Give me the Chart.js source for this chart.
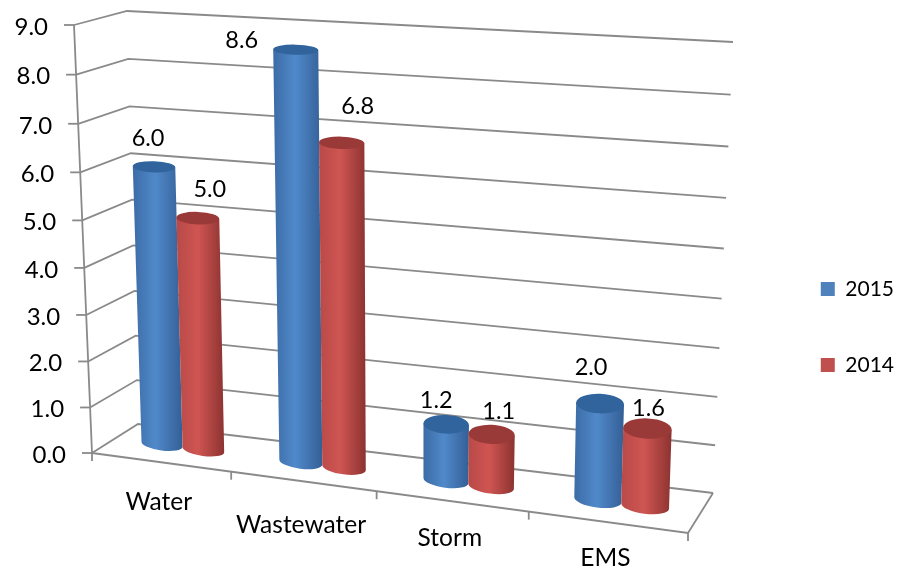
<!DOCTYPE html>
<html>
<head>
<meta charset="utf-8">
<style>
  html, body { margin: 0; padding: 0; background: #fff; }
  canvas { display: block; }
</style>
<script src="https://cdn.jsdelivr.net/npm/chart.js@4/dist/chart.umd.min.js"></script>
</head>
<body>
<canvas id="myChart" width="897" height="571"></canvas>
<script>
// chart data
const categories = ['Water', 'Wastewater', 'Storm', 'EMS'];
const values2015 = [6.0, 8.6, 1.2, 2.0];
const values2014 = [5.0, 6.8, 1.1, 1.6];

// look of the two series
const blueStops = ['#3c6ca6', '#5089ca', '#345f96'];
const redStops = ['#b84a48', '#cf5552', '#8c3331'];
const capColors = ['#31639c', '#9a3a38'];
const gridColor = '#8a8a8a';
const textColor = '#000';
const fontName = 'Lato, "Open Sans", sans-serif';

// the box of the 3d view: floor and top corners of front and back planes
const frontPlane = [[92, 453], [688, 533], [701, 67], [74, 25]];
const backPlane = [[138, 424], [713, 493], [733, 42], [127, 11]];
const barDepth = 0.5;
const barRadiusDepth = 0.28;

// hand placed nudges, same order as the categories
const catLabelDrop = [40, 44, 37, 36];
const valueLabelNudge = [
  [[-6, -28], [-54, -9], [-10, -24], [-9, -36]],
  [[12, -29], [16, -36], [7, -23], [1, -20]]
];

// unit square -> quad
const makeHomography = (q) => {
  const [p0, p1, p2, p3] = q;
  const dx1 = p1[0] - p2[0], dx2 = p3[0] - p2[0], sx = p0[0] - p1[0] + p2[0] - p3[0];
  const dy1 = p1[1] - p2[1], dy2 = p3[1] - p2[1], sy = p0[1] - p1[1] + p2[1] - p3[1];
  const den = dx1 * dy2 - dx2 * dy1;
  const g = (sx * dy2 - dx2 * sy) / den;
  const h = (dx1 * sy - sx * dy1) / den;
  const a = p1[0] - p0[0] + g * p1[0], b = p3[0] - p0[0] + h * p3[0];
  const d = p1[1] - p0[1] + g * p1[1], e = p3[1] - p0[1] + h * p3[1];
  return (u, v) => {
    const w = g * u + h * v + 1;
    return [(a * u + b * v + p0[0]) / w, (d * u + e * v + p0[1]) / w];
  };
};
const frontMap = makeHomography(frontPlane);
const backMap = makeHomography(backPlane);

const project = (u, v, depth) => {
  const f = frontMap(u, v), b = backMap(u, v);
  return [f[0] + (b[0] - f[0]) * depth, f[1] + (b[1] - f[1]) * depth];
};

const strokePath = (ctx, pts) => {
  ctx.beginPath();
  pts.forEach((p, i) => i ? ctx.lineTo(p[0], p[1]) : ctx.moveTo(p[0], p[1]));
  ctx.stroke();
};

const drawBox = (chart) => {
  const ctx = chart.ctx, yScale = chart.scales.y;
  const area = chart.chartArea;
  ctx.save();
  ctx.strokeStyle = gridColor;
  ctx.lineWidth = 1.8;
  ctx.fillStyle = textColor;
  ctx.font = '24px ' + fontName;
  ctx.textAlign = 'right';
  ctx.textBaseline = 'middle';

  yScale.ticks.forEach((tick) => {
    const v = (area.bottom - yScale.getPixelForValue(tick.value)) / area.height;
    const a = project(0, v, 0), b = project(0, v, 1), c = project(1, v, 1);
    strokePath(ctx, [a, b, c]);
    strokePath(ctx, [[a[0] - 10, a[1]], a]);
    ctx.fillText(tick.label, a[0] - 26, a[1] + 2);
  });

  strokePath(ctx, [project(0, 0, 0), project(0, 1, 0)]);
  strokePath(ctx, [project(0, 0, 0), project(1, 0, 0), project(1, 0, 1)]);
  for (let i = 0; i <= categories.length; i++) {
    const p = project(i / categories.length, 0, 0);
    strokePath(ctx, [p, [p[0], p[1] + 8]]);
  }

  const xScale = chart.scales.x;
  ctx.textAlign = 'center';
  ctx.font = '24.5px ' + fontName;
  categories.forEach((cat, i) => {
    const u = (xScale.getPixelForValue(i) - area.left) / area.width;
    const p = project(u, 0, 0);
    ctx.fillText(cat, p[0] - 2, p[1] + catLabelDrop[i]);
  });
  ctx.restore();
};

const drawCylinder = (chart, bar, stops, capColor) => {
  const ctx = chart.ctx, area = chart.chartArea;
  const uL = (bar.x - bar.width / 2 - area.left) / area.width;
  const uR = (bar.x + bar.width / 2 - area.left) / area.width;
  const uC = (bar.x - area.left) / area.width;
  const vTop = (area.bottom - bar.y) / area.height;
  const vBase = (area.bottom - bar.base) / area.height;

  const tl = project(uL, vTop, barDepth), tr = project(uR, vTop, barDepth);
  const bl = project(uL, vBase, barDepth), br = project(uR, vBase, barDepth);

  const ring = (l, r, v, squash, turn) => {
    const near = project(uC, v, barDepth - barRadiusDepth);
    const far = project(uC, v, barDepth + barRadiusDepth);
    return {
      x: (l[0] + r[0]) / 2,
      y: (l[1] + r[1]) / 2,
      rx: Math.hypot(r[0] - l[0], r[1] - l[1]) / 2,
      ry: Math.abs(near[1] - far[1]) / 2 * squash,
      rot: Math.atan2(r[1] - l[1], r[0] - l[0]) * turn
    };
  };
  const top = ring(tl, tr, vTop, 1, 0.4), bottom = ring(bl, br, vBase, 0.72, 1);

  // side edges follow the flattened cap so no corner sticks out
  const capLeft = [top.x - top.rx * Math.cos(top.rot), top.y - top.rx * Math.sin(top.rot)];
  const capRight = [top.x + top.rx * Math.cos(top.rot), top.y + top.rx * Math.sin(top.rot)];

  const grad = ctx.createLinearGradient(Math.min(tl[0], bl[0]), 0, Math.max(tr[0], br[0]), 0);
  grad.addColorStop(0, stops[0]);
  grad.addColorStop(0.45, stops[1]);
  grad.addColorStop(1, stops[2]);

  ctx.save();
  ctx.fillStyle = grad;
  ctx.beginPath();
  ctx.moveTo(capLeft[0], capLeft[1]);
  ctx.lineTo(capRight[0], capRight[1]);
  ctx.lineTo(br[0], br[1]);
  ctx.ellipse(bottom.x, bottom.y, bottom.rx, bottom.ry, bottom.rot, 0, Math.PI);
  ctx.closePath();
  ctx.fill();

  ctx.fillStyle = capColor;
  ctx.beginPath();
  ctx.ellipse(top.x, top.y, top.rx, top.ry, top.rot, 0, Math.PI * 2);
  ctx.fill();
  ctx.restore();
  return top;
};

const cylinderPlugin = {
  id: 'cylinders',
  afterLayout(chart) {
    // legend sits lower and further right than the default
    const legend = chart.legend;
    legend.top += 88;
    legend.bottom += 88;
    legend.left += 11;
    legend.right += 11;
  },
  beforeDatasetsDraw(chart) {
    const ctx = chart.ctx;
    drawBox(chart);
    const tops = [];
    chart.data.datasets.forEach((ds, di) => {
      const stops = di === 0 ? blueStops : redStops;
      chart.getDatasetMeta(di).data.forEach((bar, i) => {
        tops.push({ di, i, top: drawCylinder(chart, bar, stops, capColors[di]), value: ds.data[i] });
      });
    });
    ctx.save();
    ctx.fillStyle = textColor;
    ctx.font = '23.5px ' + fontName;
    ctx.textAlign = 'center';
    ctx.textBaseline = 'middle';
    tops.forEach((t) => {
      const nudge = valueLabelNudge[t.di][t.i];
      ctx.fillText(t.value.toFixed(1), t.top.x + nudge[0], t.top.y + nudge[1]);
    });
    ctx.restore();
    return false;
  }
};

let ctx = document.querySelector('#myChart');

new Chart(ctx, {
  type: 'bar',
  data: {
    labels: categories,
    datasets: [
      { label: '2015', data: values2015, backgroundColor: '#4f81bd' },
      { label: '2014', data: values2014, backgroundColor: '#c0504d' }
    ]
  },
  options: {
    responsive: false,
    animation: false,
    layout: { padding: { left: 92, top: 25, bottom: 118, right: 4 } },
    datasets: { bar: { categoryPercentage: 0.605, barPercentage: 1 } },
    scales: {
      x: { grid: { display: false }, border: { display: false }, ticks: { display: false } },
      y: {
        min: 0,
        max: 9,
        grid: { display: false },
        border: { display: false },
        ticks: { display: false, stepSize: 1, callback: (v) => v.toFixed(1) }
      }
    },
    plugins: {
      tooltip: { enabled: false },
      legend: {
        position: 'right',
        labels: {
          boxWidth: 14,
          boxHeight: 14,
          padding: 55,
          color: textColor,
          font: { family: fontName, size: 21 }
        }
      }
    }
  },
  plugins: [cylinderPlugin]
});
</script>
</body>
</html>
